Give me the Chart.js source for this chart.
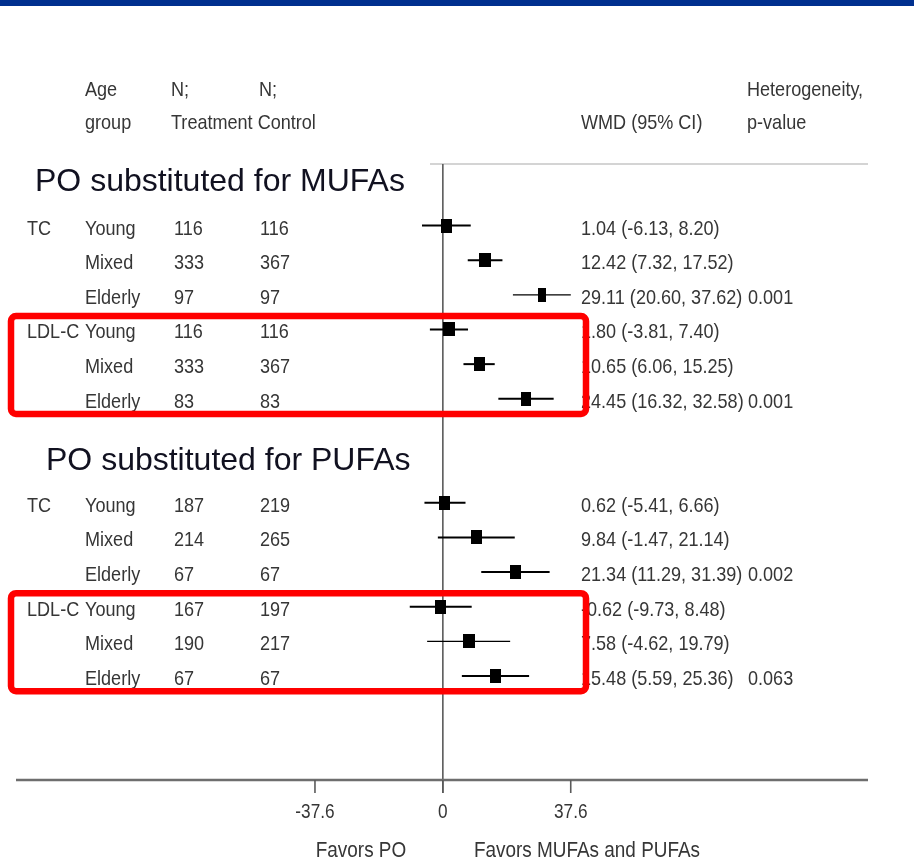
<!DOCTYPE html>
<html>
<head>
<meta charset="utf-8">
<script src="https://cdn.jsdelivr.net/npm/chart.js@4.4.1/dist/chart.umd.min.js"></script>
<style>
  html, body { margin: 0; padding: 0; background: #ffffff; }
  #wrap { position: relative; width: 914px; height: 863px; }
</style>
</head>
<body>
<div id="wrap"><canvas id="forest" width="914" height="863"></canvas></div>
<script>
// ---- Data: weighted mean differences (WMD) of palm oil vs MUFAs / PUFAs ----
const outcomes    = ['TC', '', '', 'LDL-C', '', '', 'TC', '', '', 'LDL-C', '', ''];
const ageGroups   = ['Young', 'Mixed', 'Elderly', 'Young', 'Mixed', 'Elderly',
                     'Young', 'Mixed', 'Elderly', 'Young', 'Mixed', 'Elderly'];
const nTreatment  = [116, 333, 97, 116, 333, 83, 187, 214, 67, 167, 190, 67];
const nControl    = [116, 367, 97, 116, 367, 83, 219, 265, 67, 197, 217, 67];
const wmd         = [1.04, 12.42, 29.11, 1.80, 10.65, 24.45, 0.62, 9.84, 21.34, -0.62, 7.58, 15.48];
const ciLow       = [-6.13, 7.32, 20.60, -3.81, 6.06, 16.32, -5.41, -1.47, 11.29, -9.73, -4.62, 5.59];
const ciHigh      = [8.20, 17.52, 37.62, 7.40, 15.25, 32.58, 6.66, 21.14, 31.39, 8.48, 19.79, 25.36];
const pHeterogen  = ['', '', '0.001', '', '', '0.001', '', '', '0.002', '', '', '0.063'];
// row slot of each estimate (two blocks of six, separated by a gap)
const rowSlot     = [0, 1, 2, 3, 4, 5, 8, 9, 10, 11, 12, 13];
const sectionTitles = ['PO substituted for MUFAs', 'PO substituted for PUFAs'];
const xTickValues = [-37.6, 0, 37.6];
const xTickLabels = ['-37.6', '0', '37.6'];
const favorsLabels = ['Favors PO', 'Favors MUFAs and PUFAs'];
// highlighted LDL-C groups: [first slot, last slot]
const highlightGroups = [[3, 5], [11, 13]];

// ---- Styling ----
const SANS = "'Liberation Sans', Arial, Helvetica, sans-serif";
const TEXT_GREY = '#363636';
const CONDENSE = 0.86;           // horizontal squeeze for the table lettering
const markerWidths = [11, 12, 8, 12, 11, 10, 11, 11, 11, 11, 12, 11];
const ciWidths     = [2, 2, 1.3, 2, 2, 2, 2, 2, 2, 2, 1.3, 2];
const MARKER_H = 14;

const markerCache = {};
function markerCanvas(w) {
  if (!markerCache[w]) {
    const c = document.createElement('canvas');
    c.width = w; c.height = MARKER_H;
    const g = c.getContext('2d');
    g.fillStyle = '#000000';
    g.fillRect(0, 0, w, MARKER_H);
    markerCache[w] = c;
  }
  return markerCache[w];
}

// condensed text: regular sans squeezed horizontally
function narrowText(ctx, text, x, y, size, align) {
  ctx.save();
  ctx.translate(x, y);
  ctx.scale(CONDENSE, 1);
  ctx.font = size + 'px ' + SANS;
  ctx.textAlign = align || 'left';
  ctx.textBaseline = 'alphabetic';
  ctx.fillText(text, 0, 0);
  ctx.restore();
}

function wmdLabel(i) {
  return wmd[i].toFixed(2) + ' (' + ciLow[i].toFixed(2) + ', ' + ciHigh[i].toFixed(2) + ')';
}

function roundRectPath(ctx, x, y, w, h, r) {
  ctx.beginPath();
  ctx.moveTo(x + r, y);
  ctx.lineTo(x + w - r, y);
  ctx.arcTo(x + w, y, x + w, y + r, r);
  ctx.lineTo(x + w, y + h - r);
  ctx.arcTo(x + w, y + h, x + w - r, y + h, r);
  ctx.lineTo(x + r, y + h);
  ctx.arcTo(x, y + h, x, y + h - r, r);
  ctx.lineTo(x, y + r);
  ctx.arcTo(x, y, x + r, y, r);
  ctx.closePath();
}

const forestPlugin = {
  id: 'forest',
  beforeDraw(chart) {
    const ctx = chart.ctx;
    const xs = chart.scales.x, ys = chart.scales.y;
    const area = chart.chartArea;
    ctx.save();
    ctx.fillStyle = '#ffffff';
    ctx.fillRect(0, 0, chart.width, chart.height);
    // top band
    ctx.fillStyle = '#00308f';
    ctx.fillRect(0, 0, chart.width, 6);

    // column headers
    ctx.fillStyle = TEXT_GREY;
    narrowText(ctx, 'Age', 85, 96, 21);
    narrowText(ctx, 'group', 85, 129, 21);
    narrowText(ctx, 'N;', 171, 96, 21);
    narrowText(ctx, 'N;', 259, 96, 21);
    narrowText(ctx, 'Treatment Control', 171, 129, 21);
    narrowText(ctx, 'WMD (95% CI)', 581, 129, 21);
    narrowText(ctx, 'Heterogeneity,', 747, 96, 21);
    narrowText(ctx, 'p-value', 747, 129, 21);

    // separator under the header
    ctx.strokeStyle = '#d4d4d4';
    ctx.lineWidth = 2;
    ctx.beginPath();
    ctx.moveTo(430, area.top);
    ctx.lineTo(area.right, area.top);
    ctx.stroke();

    // line of no effect
    const x0 = xs.getPixelForValue(0);
    ctx.strokeStyle = '#5a5a5a';
    ctx.lineWidth = 1.6;
    ctx.beginPath();
    ctx.moveTo(x0, area.top);
    ctx.lineTo(x0, area.bottom + 13);
    ctx.stroke();

    // x axis with ticks
    ctx.strokeStyle = '#6e6e6e';
    ctx.lineWidth = 2.5;
    ctx.beginPath();
    ctx.moveTo(area.left, area.bottom);
    ctx.lineTo(area.right, area.bottom);
    ctx.stroke();
    ctx.lineWidth = 1.6;
    ctx.strokeStyle = '#5a5a5a';
    ctx.fillStyle = TEXT_GREY;
    xTickValues.forEach((v, k) => {
      const px = xs.getPixelForValue(v);
      ctx.beginPath();
      ctx.moveTo(px, area.bottom);
      ctx.lineTo(px, area.bottom + 13);
      ctx.stroke();
      narrowText(ctx, xTickLabels[k], px, area.bottom + 38, 20, 'center');
    });
    narrowText(ctx, favorsLabels[0], 361, 857, 22, 'center');
    narrowText(ctx, favorsLabels[1], 587, 857, 22, 'center');

    // confidence intervals
    ctx.strokeStyle = '#000000';
    rowSlot.forEach((slot, i) => {
      const py = ys.getPixelForValue(slot);
      ctx.lineWidth = ciWidths[i];
      ctx.beginPath();
      ctx.moveTo(xs.getPixelForValue(ciLow[i]), py);
      ctx.lineTo(xs.getPixelForValue(ciHigh[i]), py);
      ctx.stroke();
    });
    ctx.restore();
  },
  afterDraw(chart) {
    const ctx = chart.ctx;
    const ys = chart.scales.y;
    ctx.save();

    // section titles
    ctx.fillStyle = '#111120';
    ctx.font = '32px ' + SANS;
    ctx.textAlign = 'left';
    ctx.textBaseline = 'alphabetic';
    ctx.fillText(sectionTitles[0], 35, ys.getPixelForValue(-1.0));
    ctx.fillText(sectionTitles[1], 46, ys.getPixelForValue(7.06));

    // table rows
    ctx.fillStyle = TEXT_GREY;
    rowSlot.forEach((slot, i) => {
      const base = ys.getPixelForValue(slot) + 9;
      if (outcomes[i]) narrowText(ctx, outcomes[i], 27, base, 21);
      narrowText(ctx, ageGroups[i], 85, base, 21);
      narrowText(ctx, String(nTreatment[i]), 174, base, 21);
      narrowText(ctx, String(nControl[i]), 260, base, 21);
      narrowText(ctx, wmdLabel(i), 581, base, 21);
      if (pHeterogen[i]) narrowText(ctx, pHeterogen[i], 748, base, 21);
    });

    // highlight frames around the LDL-C groups
    ctx.strokeStyle = '#ff0000';
    ctx.lineWidth = 6.5;
    highlightGroups.forEach(([a, b]) => {
      const top = ys.getPixelForValue(a - 0.39);
      const bottom = ys.getPixelForValue(b + 0.44);
      roundRectPath(ctx, 11, top, 575, bottom - top, 5);
      ctx.stroke();
    });
    ctx.restore();
  }
};

new Chart(document.getElementById('forest').getContext('2d'), {
  type: 'scatter',
  data: {
    datasets: [{
      data: rowSlot.map((slot, i) => ({ x: wmd[i], y: slot })),
      pointStyle: (c) => markerCanvas(markerWidths[c.dataIndex] || 11),
      pointRadius: 7,
      backgroundColor: '#000000',
      borderWidth: 0
    }]
  },
  options: {
    responsive: false,
    animation: false,
    layout: { padding: { left: 16, right: 46, top: 164, bottom: 83 } },
    scales: {
      x: { type: 'linear', min: -125.5, max: 125, display: false },
      y: { type: 'linear', min: -1.775, max: 16, reverse: true, display: false }
    },
    plugins: { legend: { display: false }, tooltip: { enabled: false } }
  },
  plugins: [forestPlugin]
});
</script>
</body>
</html>
